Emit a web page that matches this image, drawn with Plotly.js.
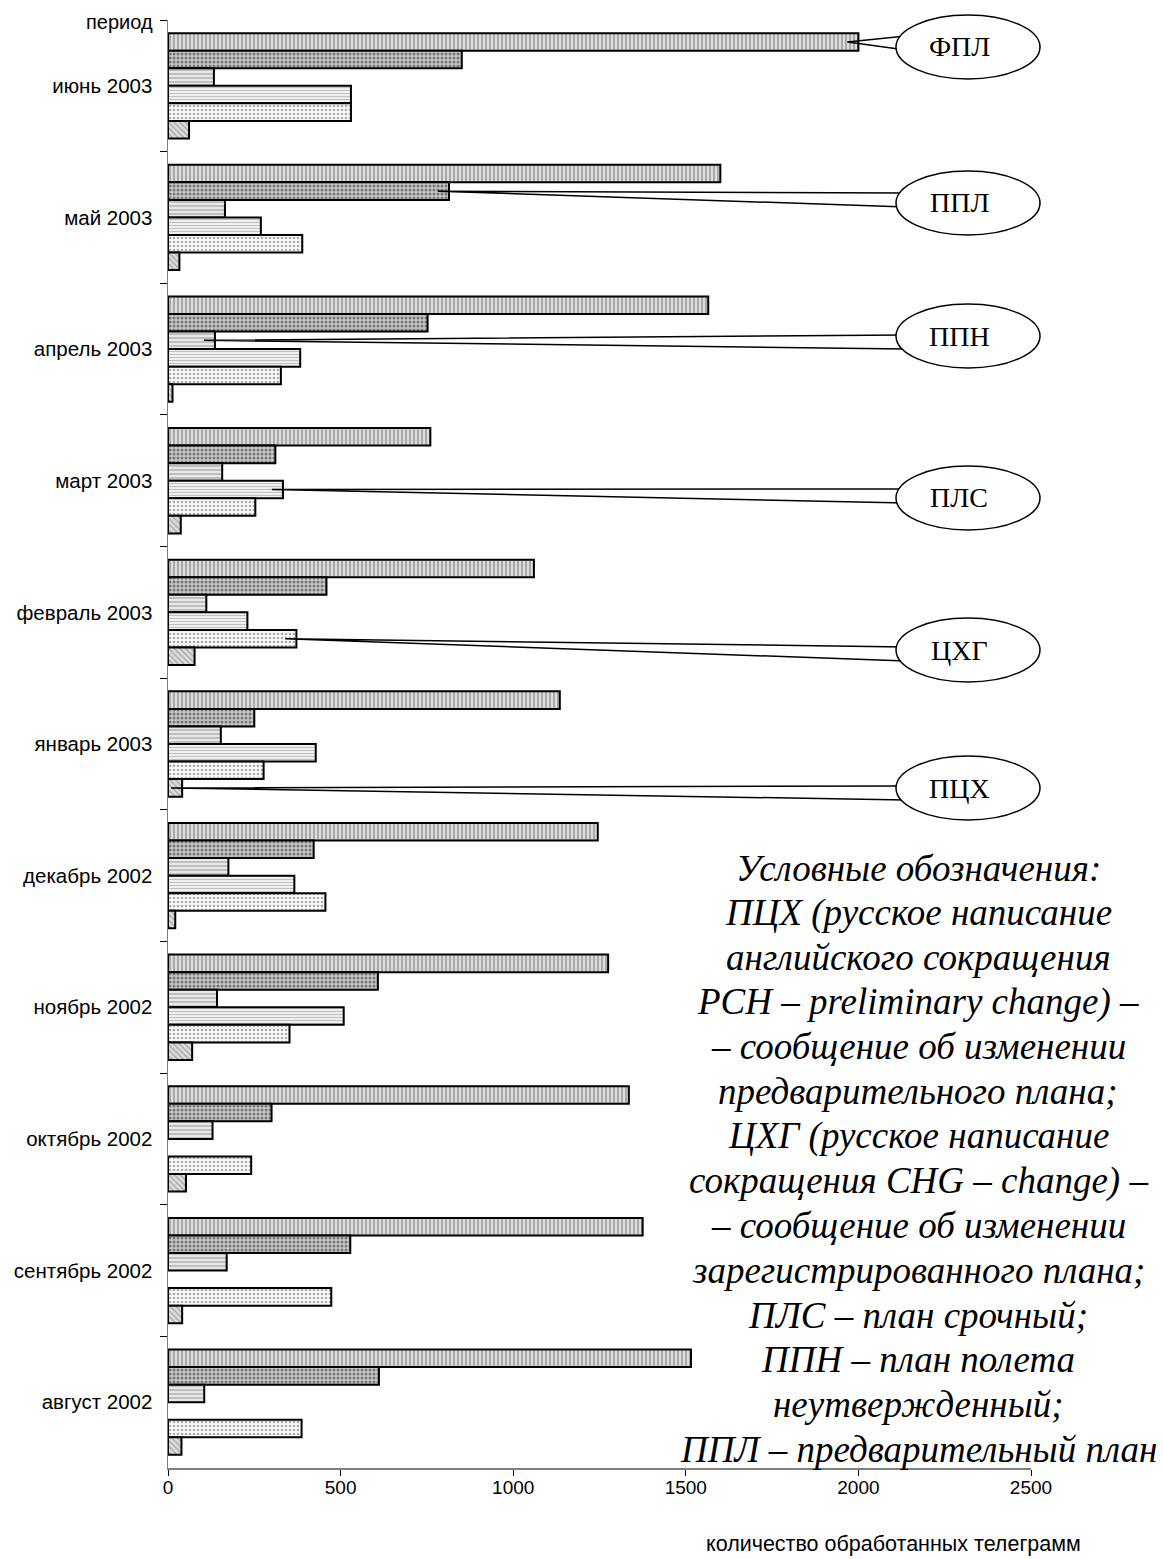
<!DOCTYPE html>
<html>
<head>
<meta charset="utf-8">
<script src="https://cdn.plot.ly/plotly-3.0.1.min.js"></script>
<style>
  html, body { margin: 0; padding: 0; background: #ffffff; }
  #chart { width: 1163px; height: 1559px; }
</style>
</head>
<body>
<div id="chart"></div>
<script>
// Periods, top to bottom
const periods = ['июнь 2003', 'май 2003', 'апрель 2003', 'март 2003', 'февраль 2003',
  'январь 2003', 'декабрь 2002', 'ноябрь 2002', 'октябрь 2002', 'сентябрь 2002', 'август 2002'];

// Number of processed telegrams per message type
const seriesNames = ['ФПЛ', 'ППЛ', 'ППН', 'ПЛС', 'ЦХГ', 'ПЦХ'];
const fpl = [2000, 1600, 1565, 760, 1060, 1135, 1245, 1275, 1335, 1375, 1515];
const ppl = [851, 814, 752, 311, 459, 250, 422, 608, 300, 528, 611];
const ppn = [133, 165, 136, 157, 111, 153, 175, 142, 129, 170, 105];
const pls = [530, 269, 383, 333, 230, 428, 366, 509, null, null, null];
const chg = [530, 389, 327, 253, 372, 277, 456, 352, 241, 473, 387];
const pch = [61, 33, 13, 37, 77, 41, 21, 70, 52, 41, 39];

const xTicks = [0, 500, 1000, 1500, 2000, 2500];

const legendLines = [
  'Условные обозначения:',
  'ПЦХ (русское написание',
  'английского сокращения',
  'PCH – preliminary change) –',
  '– сообщение об изменении',
  'предварительного плана;',
  'ЦХГ (русское написание',
  'сокращения CHG – change) –',
  '– сообщение об изменении',
  'зарегистрированного плана;',
  'ПЛС – план срочный;',
  'ППН – план полета',
  'неутвержденный;',
  'ППЛ – предварительный план'
];

const seriesValues = [fpl, ppl, ppn, pls, chg, pch];

// Hatch styles of the six series
const styles = [
  { bg: '#dcdcdc', fg: '#949494', shape: '|', size: 4, solidity: 0.35 },
  { bg: '#c8c8c8', fg: '#767676', shape: '.', size: 4, solidity: 0.45 },
  { bg: '#e8e8e8', fg: '#a4a4a4', shape: '-', size: 4, solidity: 0.3 },
  { bg: '#efefef', fg: '#c0c0c0', shape: '-', size: 3, solidity: 0.35 },
  { bg: '#fafafa', fg: '#acacac', shape: '.', size: 4, solidity: 0.35 },
  { bg: '#dedede', fg: '#a0a0a0', shape: '\\', size: 4, solidity: 0.3 }
];

const traces = seriesNames.map((name, j) => ({
  type: 'bar',
  orientation: 'h',
  name: name,
  y: periods,
  x: seriesValues[j],
  marker: {
    color: styles[j].bg,
    line: { color: '#000000', width: 2 },
    pattern: {
      shape: styles[j].shape,
      fgcolor: styles[j].fg,
      bgcolor: styles[j].bg,
      size: styles[j].size,
      solidity: styles[j].solidity
    }
  },
  hoverinfo: 'skip'
}));

// Plot frame geometry (pixels)
const W = 1163, H = 1559;
const M = { l: 168, r: 132, t: 20, b: 91 };
const PW = W - M.l - M.r, PH = H - M.t - M.b;
const X_MAX = 2500;
const BARGAP = 0.2;

const pxToPaperX = px => (px - M.l) / PW;
const pyToPaperY = py => (H - M.b - py) / PH;

// Centre of bar j in category c, in paper coordinates
function barCentre(seriesIdx, catIdx, inset) {
  const group = 1 - BARGAP;
  const pos = catIdx - group / 2 + (seriesIdx + 0.5) * group / seriesNames.length;
  const val = seriesValues[seriesIdx][catIdx] - inset;
  return { x: val / X_MAX, y: 1 - (pos + 0.5) / periods.length };
}

// Callout balloons naming the series
const callouts = [
  { series: 'ФПЛ', period: 'июнь 2003',    cx: 968, cy: 47,  top: -11 },
  { series: 'ППЛ', period: 'май 2003',     cx: 968, cy: 203, top: -10 },
  { series: 'ППН', period: 'апрель 2003',  cx: 968, cy: 336, top: -1 },
  { series: 'ПЛС', period: 'март 2003',    cx: 968, cy: 498, top: -9 },
  { series: 'ЦХГ', period: 'февраль 2003', cx: 968, cy: 650, top: -3 },
  { series: 'ПЦХ', period: 'январь 2003',  cx: 968, cy: 788, top: -2 }
];
const RX = 72, RY = 32;

const shapes = [];
const annotations = [];

callouts.forEach(c => {
  const j = seriesNames.indexOf(c.series);
  const k = periods.indexOf(c.period);
  const a = barCentre(j, k, 32);
  const ex = 906;
  const y1 = c.cy + c.top, y2 = c.cy + c.top + 14;
  shapes.push({
    type: 'path', xref: 'paper', yref: 'paper',
    path: `M ${pxToPaperX(ex)},${pyToPaperY(y1)} L ${a.x},${a.y} L ${pxToPaperX(ex)},${pyToPaperY(y2)}`,
    line: { color: '#000000', width: 1.5 },
    fillcolor: 'rgba(0,0,0,0)'
  });
  shapes.push({
    type: 'circle', xref: 'paper', yref: 'paper',
    x0: pxToPaperX(c.cx - RX), x1: pxToPaperX(c.cx + RX),
    y0: pyToPaperY(c.cy + RY), y1: pyToPaperY(c.cy - RY),
    line: { color: '#000000', width: 1.5 },
    fillcolor: '#ffffff'
  });
  annotations.push({
    xref: 'paper', yref: 'paper',
    x: pxToPaperX(c.cx - 9), y: pyToPaperY(c.cy),
    xanchor: 'center', yanchor: 'middle',
    text: c.series, showarrow: false,
    font: { family: 'Liberation Serif, Times New Roman, serif', size: 28, color: '#000000' }
  });
});

// Key text block
legendLines.forEach((line, i) => {
  annotations.push({
    xref: 'paper', yref: 'paper',
    x: pxToPaperX(918), y: pyToPaperY(868 + i * 44.7),
    xanchor: 'center', yanchor: 'middle',
    text: '<i>' + line + '</i>', showarrow: false,
    font: { family: 'Liberation Serif, Times New Roman, serif', size: 37, color: '#000000' }
  });
});

// Axis captions
annotations.push({
  xref: 'paper', yref: 'paper',
  x: pxToPaperX(155), y: pyToPaperY(22),
  xanchor: 'right', yanchor: 'middle',
  text: 'период', showarrow: false,
  font: { family: 'Liberation Sans, Arial, sans-serif', size: 20, color: '#000000' }
});
annotations.push({
  xref: 'paper', yref: 'paper',
  x: pxToPaperX(893), y: pyToPaperY(1544),
  xanchor: 'center', yanchor: 'middle',
  text: 'количество обработанных телеграмм', showarrow: false,
  font: { family: 'Liberation Sans, Arial, sans-serif', size: 21.5, color: '#000000' }
});

const layout = {
  width: W, height: H,
  margin: M,
  paper_bgcolor: '#ffffff',
  plot_bgcolor: '#ffffff',
  showlegend: false,
  barmode: 'group',
  bargap: BARGAP,
  bargroupgap: 0,
  font: { family: 'Liberation Sans, Arial, sans-serif', size: 19, color: '#000000' },
  xaxis: {
    range: [0, X_MAX],
    tickvals: xTicks,
    ticktext: xTicks.map(String),
    ticks: 'outside', ticklen: 6, tickcolor: '#000000', tickwidth: 1,
    ticklabelstandoff: -4,
    showline: true, linecolor: '#808080', linewidth: 1.5,
    showgrid: false, zeroline: false,
    tickfont: { size: 19 }
  },
  yaxis: {
    type: 'category',
    categoryorder: 'array', categoryarray: periods,
    range: [periods.length - 0.5, -0.5],
    ticks: 'outside', tickson: 'boundaries', ticklen: 7, tickcolor: '#000000', tickwidth: 1,
    ticklabelstandoff: 10,
    showline: true, linecolor: '#808080', linewidth: 1.5,
    showgrid: false, zeroline: false,
    tickfont: { size: 20.5 }
  },
  shapes: shapes,
  annotations: annotations
};

Plotly.newPlot('chart', traces, layout, { staticPlot: true, displayModeBar: false });
</script>
</body>
</html>
